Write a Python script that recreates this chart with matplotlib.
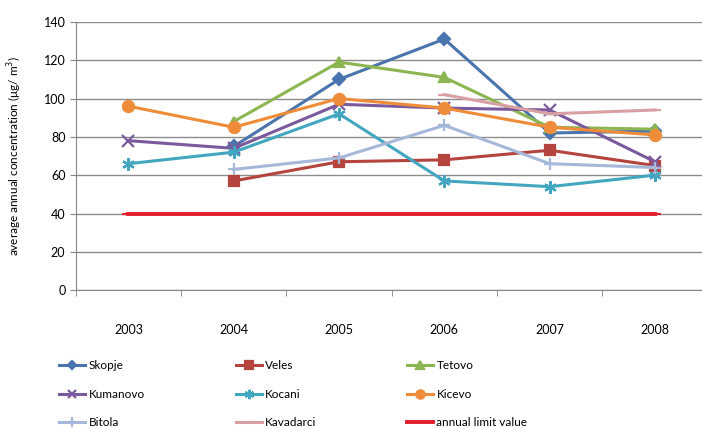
import numpy as np
import matplotlib
matplotlib.use('Agg')
import matplotlib.pyplot as plt

plt.rcParams['font.family'] = ['Lato', 'DejaVu Sans']

# data
years = ['2003', '2004', '2005', '2006', '2007', '2008']
nan = np.nan
skopje = [nan, 75, 110, 131, 82, 83]
veles = [nan, 57, 67, 68, 73, 65]
tetovo = [nan, 88, 119, 111, 85, 84]
kumanovo = [78, 74, 97, 95, 94, 67]
kocani = [66, 72, 92, 57, 54, 60]
kicevo = [96, 85, 100, 95, 85, 81]
bitola = [nan, 63, 69, 86, 66, 64]
kavadarci = [nan, nan, nan, 102, 92, 94]
limit_value = [40, 40, 40, 40, 40, 40]

series = [
    ('Skopje', skopje, '#4A74AE', 'D', 6, 2.2),
    ('Veles', veles, '#B5443F', 's', 7, 2.2),
    ('Tetovo', tetovo, '#8DB652', '^', 7, 2.2),
    ('Kumanovo', kumanovo, '#7A5A9C', 'x', 8, 2.2),
    ('Kocani', kocani, '#43A6C1', (6, 2, 0), 9, 2.2),
    ('Kicevo', kicevo, '#EE8C3A', 'o', 8, 2.2),
    ('Bitola', bitola, '#A6B8DA', '+', 9, 2.2),
    ('Kavadarci', kavadarci, '#D9A0A4', '_', 8, 2.2),
    ('annual limit value', limit_value, '#E0202A', '_', 8, 2.8),
]

fig = plt.figure(figsize=(7.02, 4.28), dpi=100)
ax = fig.add_axes([0.108, 0.322, 0.9, 0.627])

x = np.arange(len(years))
handles = []
for name, vals, col, mk, ms, lw in series:
    h, = ax.plot(x, vals, color=col, marker=mk, markersize=ms, linewidth=lw,
                 markeredgewidth=1.6, label=name)
    handles.append(h)

ax.set_xlim(-0.5, 5.5)
ax.set_ylim(0, 140)
ax.set_yticks(range(0, 141, 20))
ax.set_xticks(x)
ax.set_xticklabels(years)
ax.set_xticks(np.arange(-0.5, 6, 1), minor=True)
ax.tick_params(axis='x', which='major', length=0, pad=24, labelsize=9)
ax.tick_params(axis='x', which='minor', length=4, color='#868686')
ax.tick_params(axis='y', length=4, color='#868686', labelsize=9)
ax.grid(axis='y', color='#8c8c8c', linewidth=1)
ax.set_axisbelow(True)
for s in ['top', 'right']:
    ax.spines[s].set_visible(False)
for s in ['left', 'bottom']:
    ax.spines[s].set_color('#868686')
ax.set_ylabel('average annual concentration (μg/ m$^3$)', fontsize=8.5)
ax.yaxis.set_label_coords(-0.082, 0.5)

# legend is filled row by row in the reference
order = [0, 3, 6, 1, 4, 7, 2, 5, 8]
fig.legend([handles[i] for i in order], [series[i][0] for i in order],
           loc='lower left', bbox_to_anchor=(0.078, -0.012, 0.68, 0.2),
           mode='expand', ncol=3, frameon=False, fontsize=8.5,
           handlelength=2.2, handletextpad=0.3, labelspacing=1.5,
           markerscale=0.75, borderaxespad=0)

fig.savefig('out.png', dpi=100)
